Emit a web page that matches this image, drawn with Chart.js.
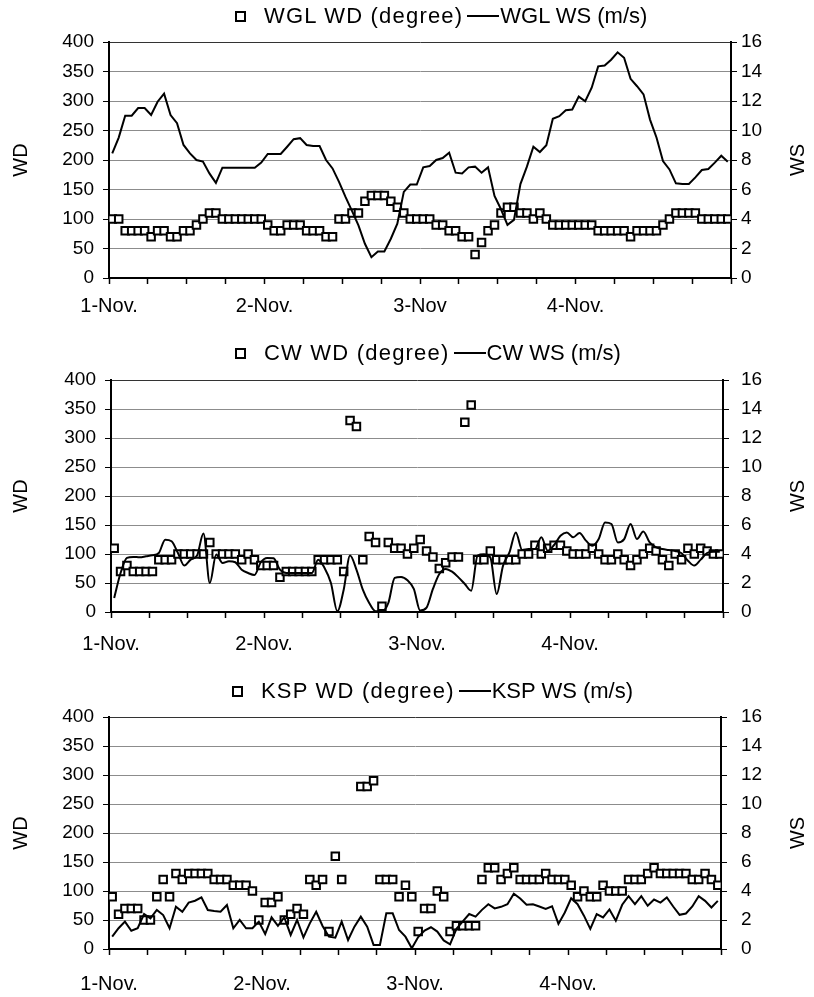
<!DOCTYPE html>
<html>
<head>
<meta charset="utf-8">
<title>WD / WS at WGL, CW and KSP</title>
<script src="https://cdn.jsdelivr.net/npm/chart.js@4.4.1/dist/chart.umd.min.js"></script>
<style>
  body { margin: 0; background: #fff; font-family: "Liberation Sans", Arial, sans-serif; }
  #page { position: relative; width: 814px; height: 997px; overflow: hidden; }
  canvas { position: absolute; left: 0; }
  .legend { position: absolute; display: flex; align-items: center; height: 24px; font-size: 22px; color: #000; white-space: nowrap; }
  .legend .t1 { letter-spacing: 1.2px; }
  .sq { width: 7px; height: 7px; border: 2px solid #000; margin-right: 18px; }
  .ln { width: 32px; border-top: 2px solid #000; margin: 0 1px 0 4px; }
</style>
</head>
<body>
<div id="page"></div>
<script>
// hourly readings, 1-Nov 00:00 to 4-Nov 23:00, each plotted at the middle of its hour
const hours = [];
for (let h = 0; h < 96; h++) hours.push(h + 0.5);

const days1 = ['1-Nov.', '2-Nov.', '3-Nov', '4-Nov.'];
const days2 = ['1-Nov.', '2-Nov.', '3-Nov.', '4-Nov.'];

// WGL
const wglWD = [
  100,100,80,80,80,80,70,80,80,70, 70,80,80,90,100,110,110,100,100,100,
  100,100,100,100,90,80,80,90,90,90, 80,80,80,70,70,100,100,110,110,130,
  140,140,140,130,120,110,100,100,100,100, 90,90,80,80,70,70,40,60,80,90,
  110,120,120,110,110,100,110,100,90,90, 90,90,90,90,90,80,80,80,80,80,
  70,80,80,80,80,90,100,110,110,110, 110,100,100,100,100,100
];
const wglWS = [
  8.45,9.52,11.0,11.0,11.52,11.52,11.05,11.95,12.5,11.05,
  10.5,9.02,8.45,8.0,7.89,7.09,6.45,7.48,7.48,7.48,
  7.48,7.48,7.48,7.82,8.41,8.41,8.41,8.9,9.41,9.48,
  9.02,8.95,8.95,8.0,7.43,6.52,5.5,4.55,3.57,2.32,
  1.41,1.8,1.8,2.66,3.68,5.84,6.34,6.34,7.5,7.59,
  8.0,8.13,8.49,7.14,7.09,7.5,7.55,7.14,7.5,5.56,
  4.66,3.6,3.94,6.37,7.55,8.9,8.54,9.0,10.8,10.97,
  11.37,11.42,12.3,11.98,12.9,14.35,14.41,14.8,15.3,14.93,
  13.5,13.0,12.45,10.74,9.53,7.93,7.36,6.42,6.37,6.37,
  6.82,7.32,7.39,7.82,8.29,7.88
];

// CW
const cwWD = [
  110,70,80,70,70,70,70,90,90,90, 100,100,100,100,100,120,100,100,100,100,
  90,100,90,80,80,80,60,70,70,70, 70,70,90,90,90,90,70,330,320,90,
  130,120,10,120,110,110,100,110,125,105, 95,75,85,95,95,327,357,90,90,105,
  90,90,90,90,100,100,115,100,110,115, 115,105,100,100,100,110,100,90,90,100,
  90,80,90,100,110,105,90,80,100,90, 110,100,110,105,100,100
];
const cwWS = [
  0.97,2.69,3.73,3.8,3.77,3.84,3.91,4.07,4.99,4.88,
  4.07,3.2,3.61,3.89,5.41,2.0,3.96,3.38,3.5,3.43,
  2.92,2.69,2.55,3.43,3.73,3.7,2.92,2.69,2.69,2.69,
  2.69,2.69,3.61,3.04,2.0,0.05,1.54,3.89,2.92,1.54,
  0.62,0.05,0.05,0.62,2.35,2.42,2.19,1.6,0.1,0.3,
  1.59,2.62,2.97,2.78,2.39,1.93,1.47,3.89,3.98,3.77,
  1.24,3.2,4.11,5.49,4.28,4.34,4.34,5.15,4.23,4.62,
  5.26,5.49,5.15,5.45,4.92,4.57,5.03,6.18,6.07,4.8,
  5.03,6.07,5.03,5.56,4.8,4.46,4.34,4.28,4.21,4.05,
  3.54,3.2,3.61,4.07,4.16,4.16
];

// KSP
const kspWD = [
  90,60,70,70,70,50,50,90,120,90, 130,120,130,130,130,130,120,120,120,110,
  110,110,100,50,80,80,90,50,60,70, 60,120,110,120,30,160,120,null,null,280,
  280,290,120,120,120,90,110,90,30,70, 70,100,90,30,40,40,40,40,120,140,
  140,120,130,140,120,120,120,120,130,120, 120,120,110,90,100,90,90,110,100,100,
  100,120,120,120,130,140,130,130,130,130, 130,120,120,130,120,110
];
const kspWS = [
  0.85,1.43,1.89,1.26,1.43,2.41,2.11,2.69,2.34,1.43,
  2.92,2.57,3.2,3.33,3.56,2.69,2.62,2.57,3.03,1.43,
  2.0,1.43,1.43,1.89,1.03,2.18,1.59,2.18,0.97,2.0,
  0.8,1.77,2.57,1.59,0.85,0.78,1.89,0.62,1.54,2.23,
  1.54,0.28,0.28,2.46,2.46,1.31,0.85,0.05,0.82,1.27,
  1.5,1.2,0.59,0.32,1.39,1.91,2.41,2.23,2.7,3.09,
  2.8,2.91,3.09,3.82,3.48,3.05,3.09,2.93,2.77,2.95,
  1.73,2.52,3.5,3.09,2.3,1.39,2.41,2.18,2.73,1.95,
  3.05,3.64,3.09,3.64,2.98,3.41,3.2,3.55,2.93,2.36,
  2.45,2.93,3.64,3.32,2.86,3.32
];

const panels = [
  { name: 'WGL', wd: wglWD, ws: wglWS, days: days1, top: 0,   left: 109, right: 731, plotTop: 42, plotBottom: 278, smooth: false, labelPad: 10, legendX: 235 },
  { name: 'CW',  wd: cwWD,  ws: cwWS,  days: days2, top: 337, left: 111, right: 723, plotTop: 43, plotBottom: 275, smooth: true,  labelPad: 14, legendX: 235 },
  { name: 'KSP', wd: kspWD, ws: kspWS, days: days2, top: 675, left: 109, right: 721, plotTop: 42, plotBottom: 274, smooth: false, labelPad: 17, legendX: 232 }
];

const W = 814, H = 322, XAXIS_H = 44;
const FONT = '"Liberation Sans", Arial, sans-serif';
Chart.defaults.font.family = FONT;
Chart.defaults.color = '#000';

// right axis title, turned the same way as the left one
const wsTitle = {
  id: 'wsTitle',
  afterDraw(chart) {
    const { ctx, chartArea } = chart;
    ctx.save();
    ctx.translate(798, (chartArea.top + chartArea.bottom) / 2);
    ctx.rotate(-Math.PI / 2);
    ctx.font = '20px ' + FONT;
    ctx.fillStyle = '#000';
    ctx.textAlign = 'center';
    ctx.textBaseline = 'middle';
    ctx.fillText('WS', 0, 0);
    ctx.restore();
  }
};

const page = document.getElementById('page');

function makeLegend(p) {
  const lg = document.createElement('div');
  lg.className = 'legend';
  lg.style.left = p.legendX + 'px';
  lg.style.top = (p.top + 4) + 'px';
  const sq = document.createElement('span'); sq.className = 'sq';
  const t1 = document.createElement('span'); t1.className = 't1';
  t1.textContent = p.name + ' WD (degree)';
  const ln = document.createElement('span'); ln.className = 'ln';
  const t2 = document.createElement('span');
  t2.textContent = p.name + ' WS (m/s)';
  lg.appendChild(sq);
  lg.appendChild(t1);
  lg.appendChild(ln);
  lg.appendChild(t2);
  page.appendChild(lg);
}

function makeChart(p) {
  const canv = document.createElement('canvas');
  canv.width = W;
  canv.height = H;
  canv.style.top = p.top + 'px';
  page.appendChild(canv);

  new Chart(canv, {
    type: 'line',
    data: {
      labels: hours,
      datasets: [
        {
          label: p.name + ' WD (degree)',
          data: p.wd,
          yAxisID: 'y',
          showLine: false,
          pointStyle: 'rect',
          pointRadius: 5.3,
          pointBorderWidth: 2,
          pointBorderColor: '#000',
          pointBackgroundColor: '#fff',
          order: 1
        },
        {
          label: p.name + ' WS (m/s)',
          data: p.ws,
          yAxisID: 'y2',
          borderColor: '#000',
          borderWidth: 2,
          pointRadius: 0,
          cubicInterpolationMode: p.smooth ? 'monotone' : 'default',
          order: 0
        }
      ]
    },
    options: {
      responsive: false,
      animation: false,
      layout: { padding: { top: p.plotTop, bottom: H - p.plotBottom - XAXIS_H, left: 0, right: 0 } },
      plugins: { legend: { display: false }, tooltip: { enabled: false } },
      scales: {
        x: {
          type: 'linear', min: 0, max: 96,
          ticks: {
            stepSize: 6, autoSkip: false, maxRotation: 0, padding: p.labelPad,
            font: { size: 20 }, color: '#000',
            callback: v => p.days[v / 24] || ''
          },
          grid: { drawOnChartArea: false, tickLength: 6, tickColor: '#000', tickWidth: 1.5 },
          border: { color: '#000', width: 2 },
          afterFit: s => { s.height = XAXIS_H; }
        },
        y: {
          position: 'left', min: 0, max: 400,
          ticks: { stepSize: 50, padding: 9, font: { size: 19 }, color: '#000' },
          grid: {
            color: c => c.tick && c.tick.value === 400 ? '#333' : '#8c8c8c',
            lineWidth: 1, tickLength: 6, tickColor: '#000'
          },
          border: { color: '#000', width: 2 },
          title: { display: true, text: 'WD', font: { size: 20 }, color: '#000', padding: { top: 9, bottom: 0 } },
          afterFit: s => { s.width = p.left; }
        },
        y2: {
          position: 'right', min: 0, max: 16,
          ticks: { stepSize: 2, padding: 741 - p.right - 6, font: { size: 19 }, color: '#000' },
          grid: { drawOnChartArea: false, tickLength: 6, tickColor: '#000' },
          border: { color: '#000', width: 2 },
          afterFit: s => { s.width = W - p.right; }
        }
      }
    },
    plugins: [wsTitle]
  });
  makeLegend(p);
}

panels.forEach(makeChart);
</script>
</body>
</html>
